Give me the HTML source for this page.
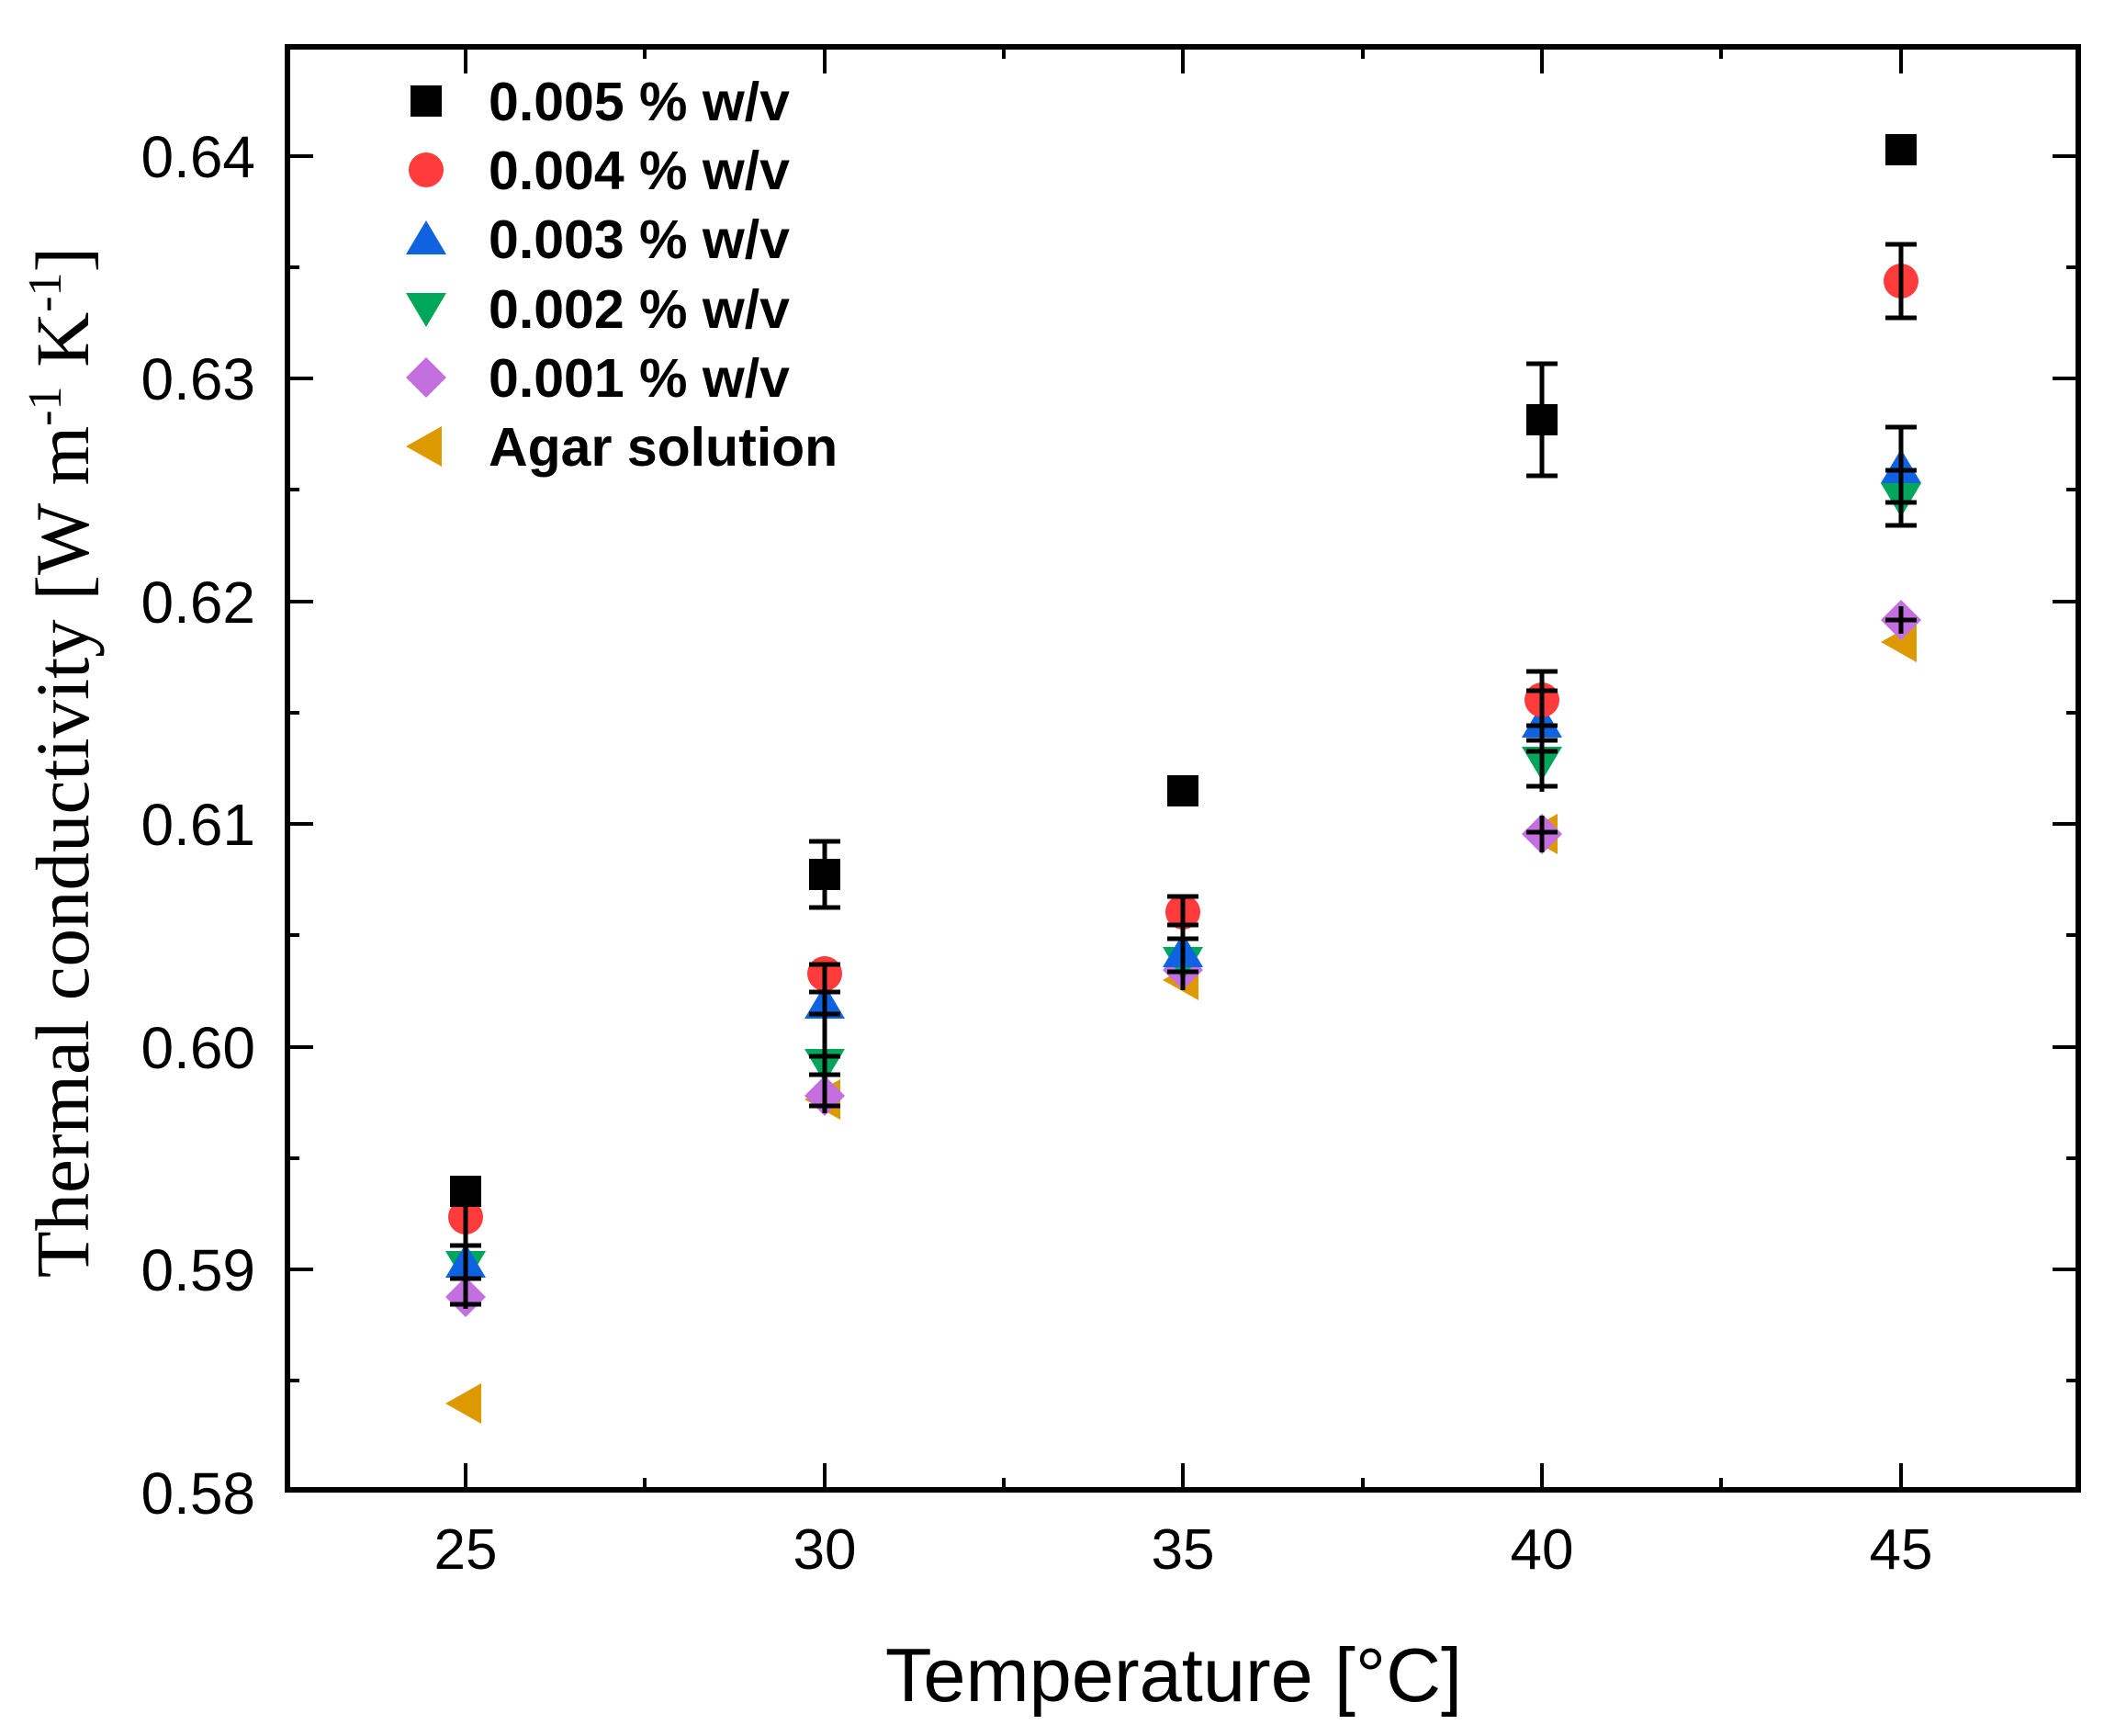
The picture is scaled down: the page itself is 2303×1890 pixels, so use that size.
<!DOCTYPE html>
<html><head><meta charset="utf-8"><style>
html,body{margin:0;padding:0;background:#fff;}
svg{display:block;}
</style></head><body>
<svg width="2303" height="1890" xmlns="http://www.w3.org/2000/svg">
<rect width="2303" height="1890" fill="#fff"/>
<defs>
<g id="sq"><rect x="-17" y="-17" width="34" height="34" fill="#000"/></g>
<g id="ci"><circle r="19" fill="#ff3b3b"/></g>
<g id="up"><polygon points="0,-20 22,17 -22,17" fill="#0f62e0"/></g>
<g id="dn"><polygon points="0,20 22,-17 -22,-17" fill="#00a65a"/></g>
<g id="di"><polygon points="0,-22 22,0 0,22 -22,0" fill="#c36fe0"/></g>
<g id="lt"><polygon points="-22,0 17,-22 17,22" fill="#dc9a00"/></g>
</defs>
<rect x="313" y="51" width="1950" height="1571" fill="none" stroke="#000" stroke-width="6"/>
<g stroke="#000" stroke-width="4">
<line x1="313" y1="170" x2="341" y2="170"/><line x1="2263" y1="170" x2="2235" y2="170"/>
<line x1="313" y1="291" x2="326" y2="291"/><line x1="2263" y1="291" x2="2250" y2="291"/>
<line x1="313" y1="412" x2="341" y2="412"/><line x1="2263" y1="412" x2="2235" y2="412"/>
<line x1="313" y1="533" x2="326" y2="533"/><line x1="2263" y1="533" x2="2250" y2="533"/>
<line x1="313" y1="655" x2="341" y2="655"/><line x1="2263" y1="655" x2="2235" y2="655"/>
<line x1="313" y1="776" x2="326" y2="776"/><line x1="2263" y1="776" x2="2250" y2="776"/>
<line x1="313" y1="897" x2="341" y2="897"/><line x1="2263" y1="897" x2="2235" y2="897"/>
<line x1="313" y1="1018" x2="326" y2="1018"/><line x1="2263" y1="1018" x2="2250" y2="1018"/>
<line x1="313" y1="1140" x2="341" y2="1140"/><line x1="2263" y1="1140" x2="2235" y2="1140"/>
<line x1="313" y1="1261" x2="326" y2="1261"/><line x1="2263" y1="1261" x2="2250" y2="1261"/>
<line x1="313" y1="1382" x2="341" y2="1382"/><line x1="2263" y1="1382" x2="2235" y2="1382"/>
<line x1="313" y1="1503" x2="326" y2="1503"/><line x1="2263" y1="1503" x2="2250" y2="1503"/>
<line x1="507" y1="1622" x2="507" y2="1593"/><line x1="507" y1="51" x2="507" y2="80"/>
<line x1="702" y1="1622" x2="702" y2="1609"/><line x1="702" y1="51" x2="702" y2="64"/>
<line x1="898" y1="1622" x2="898" y2="1593"/><line x1="898" y1="51" x2="898" y2="80"/>
<line x1="1093" y1="1622" x2="1093" y2="1609"/><line x1="1093" y1="51" x2="1093" y2="64"/>
<line x1="1288" y1="1622" x2="1288" y2="1593"/><line x1="1288" y1="51" x2="1288" y2="80"/>
<line x1="1484" y1="1622" x2="1484" y2="1609"/><line x1="1484" y1="51" x2="1484" y2="64"/>
<line x1="1679" y1="1622" x2="1679" y2="1593"/><line x1="1679" y1="51" x2="1679" y2="80"/>
<line x1="1874" y1="1622" x2="1874" y2="1609"/><line x1="1874" y1="51" x2="1874" y2="64"/>
<line x1="2070" y1="1622" x2="2070" y2="1593"/><line x1="2070" y1="51" x2="2070" y2="80"/>
</g>
<g font-family="Liberation Sans, sans-serif" font-size="64" fill="#000" text-anchor="end">
<text x="278" y="193">0.64</text>
<text x="278" y="435">0.63</text>
<text x="278" y="678">0.62</text>
<text x="278" y="920">0.61</text>
<text x="278" y="1163">0.60</text>
<text x="278" y="1405">0.59</text>
<text x="278" y="1648">0.58</text>
</g>
<g font-family="Liberation Sans, sans-serif" font-size="62" fill="#000" text-anchor="middle">
<text x="507" y="1708">25</text>
<text x="898" y="1708">30</text>
<text x="1288" y="1708">35</text>
<text x="1679" y="1708">40</text>
<text x="2070" y="1708">45</text>
</g>
<text x="1278" y="1852" font-family="Liberation Sans, sans-serif" font-size="83" text-anchor="middle">Temperature [°C]</text>
<text transform="translate(96,830) rotate(-90)" font-family="Liberation Serif, serif" font-size="83" text-anchor="middle">Thermal conductivity [W m<tspan font-size="52" dy="-30">-1</tspan><tspan dy="30"> K</tspan><tspan font-size="52" dy="-30">-1</tspan><tspan dy="30">]</tspan></text>
<use href="#sq" x="464" y="110"/>
<use href="#ci" x="464" y="185"/>
<use href="#up" x="464" y="260"/>
<use href="#dn" x="464" y="336"/>
<use href="#di" x="464" y="411"/>
<use href="#lt" x="464" y="486"/>
<g font-family="Liberation Sans, sans-serif" font-size="59" font-weight="bold" fill="#000">
<text x="532" y="131">0.005 % w/v</text>
<text x="532" y="206">0.004 % w/v</text>
<text x="532" y="281">0.003 % w/v</text>
<text x="532" y="357">0.002 % w/v</text>
<text x="532" y="432">0.001 % w/v</text>
<text x="532" y="507">Agar solution</text>
</g>
<use href="#lt" x="507" y="1528"/>
<use href="#di" x="507" y="1412"/>
<use href="#dn" x="507" y="1379"/>
<use href="#up" x="507" y="1374"/>
<use href="#ci" x="507" y="1325"/>
<use href="#sq" x="507" y="1297"/>
<g stroke="#000" stroke-width="5">
<line x1="507" y1="1288" x2="507" y2="1425"/>
<line x1="490" y1="1288" x2="524" y2="1288"/>
<line x1="490" y1="1308" x2="524" y2="1308"/>
<line x1="490" y1="1356" x2="524" y2="1356"/>
<line x1="490" y1="1392" x2="524" y2="1392"/>
<line x1="490" y1="1420" x2="524" y2="1420"/>
</g>
<use href="#lt" x="898" y="1197"/>
<use href="#di" x="898" y="1193"/>
<use href="#dn" x="898" y="1159"/>
<use href="#up" x="898" y="1092"/>
<use href="#ci" x="898" y="1060"/>
<use href="#sq" x="898" y="952"/>
<g stroke="#000" stroke-width="5">
<line x1="898" y1="916" x2="898" y2="988"/>
<line x1="881" y1="916" x2="915" y2="916"/>
<line x1="881" y1="988" x2="915" y2="988"/>
<line x1="898" y1="1050" x2="898" y2="1212"/>
<line x1="881" y1="1050" x2="915" y2="1050"/>
<line x1="881" y1="1080" x2="915" y2="1080"/>
<line x1="881" y1="1104" x2="915" y2="1104"/>
<line x1="881" y1="1150" x2="915" y2="1150"/>
<line x1="881" y1="1170" x2="915" y2="1170"/>
<line x1="881" y1="1204" x2="915" y2="1204"/>
</g>
<use href="#lt" x="1288" y="1067"/>
<use href="#di" x="1288" y="1056"/>
<use href="#dn" x="1288" y="1048"/>
<use href="#up" x="1288" y="1036"/>
<use href="#ci" x="1288" y="993"/>
<use href="#sq" x="1288" y="861"/>
<g stroke="#000" stroke-width="5">
<line x1="1288" y1="976" x2="1288" y2="1078"/>
<line x1="1271" y1="976" x2="1305" y2="976"/>
<line x1="1271" y1="1007" x2="1305" y2="1007"/>
<line x1="1271" y1="1022" x2="1305" y2="1022"/>
<line x1="1271" y1="1058" x2="1305" y2="1058"/>
</g>
<use href="#lt" x="1679" y="908"/>
<use href="#di" x="1679" y="908"/>
<use href="#dn" x="1679" y="830"/>
<use href="#up" x="1679" y="786"/>
<use href="#ci" x="1679" y="762"/>
<use href="#sq" x="1679" y="457"/>
<g stroke="#000" stroke-width="5">
<line x1="1679" y1="396" x2="1679" y2="518"/>
<line x1="1662" y1="396" x2="1696" y2="396"/>
<line x1="1662" y1="518" x2="1696" y2="518"/>
<line x1="1679" y1="731" x2="1679" y2="862"/>
<line x1="1662" y1="731" x2="1696" y2="731"/>
<line x1="1662" y1="752" x2="1696" y2="752"/>
<line x1="1662" y1="790" x2="1696" y2="790"/>
<line x1="1662" y1="806" x2="1696" y2="806"/>
<line x1="1662" y1="818" x2="1696" y2="818"/>
<line x1="1662" y1="856" x2="1696" y2="856"/>
<line x1="1679" y1="888" x2="1679" y2="928"/>
<line x1="1662" y1="906" x2="1696" y2="906"/>
</g>
<use href="#lt" x="2070" y="699"/>
<use href="#di" x="2070" y="675"/>
<use href="#dn" x="2070" y="543"/>
<use href="#up" x="2070" y="509"/>
<use href="#ci" x="2070" y="306"/>
<use href="#sq" x="2070" y="163"/>
<g stroke="#000" stroke-width="5">
<line x1="2070" y1="266" x2="2070" y2="346"/>
<line x1="2053" y1="266" x2="2087" y2="266"/>
<line x1="2053" y1="346" x2="2087" y2="346"/>
<line x1="2070" y1="465" x2="2070" y2="572"/>
<line x1="2053" y1="465" x2="2087" y2="465"/>
<line x1="2053" y1="512" x2="2087" y2="512"/>
<line x1="2053" y1="547" x2="2087" y2="547"/>
<line x1="2053" y1="572" x2="2087" y2="572"/>
<line x1="2070" y1="660" x2="2070" y2="690"/>
<line x1="2053" y1="675" x2="2087" y2="675"/>
</g>
</svg>
</body></html>
